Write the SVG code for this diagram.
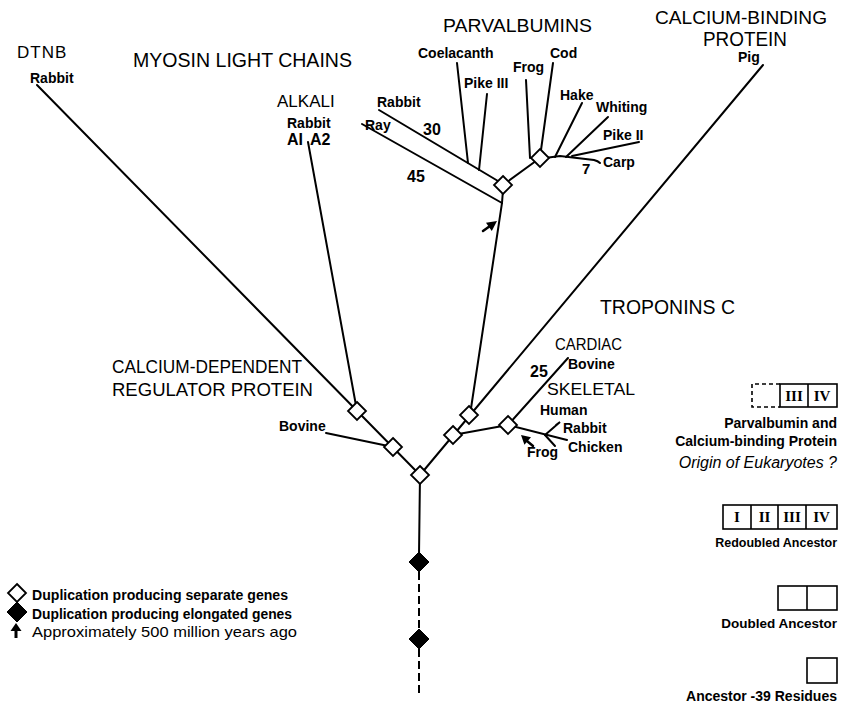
<svg xmlns="http://www.w3.org/2000/svg" xmlns:xlink="http://www.w3.org/1999/xlink" width="841" height="706" viewBox="0 0 841 706">
<defs>
<style>
.ln{stroke:#000;stroke-width:2;fill:none;stroke-linecap:round}
.dash{stroke:#000;stroke-width:2;fill:none;stroke-dasharray:8 4}
.wd{fill:#fff;stroke:#000;stroke-width:1.8}
.bd{fill:#000;stroke:#000;stroke-width:1}
.t{font-family:"Liberation Sans",Arial,sans-serif;font-size:20px;fill:#000}
.lb{font-family:"Liberation Sans",Arial,sans-serif;font-size:14px;font-weight:bold;fill:#000}
.nm{font-family:"Liberation Sans",Arial,sans-serif;font-size:16px;font-weight:bold;fill:#000}
.lg{font-family:"Liberation Sans",Arial,sans-serif;font-size:14px;font-weight:bold;fill:#000}
.it{font-family:"Liberation Sans",Arial,sans-serif;font-size:16px;font-style:italic;fill:#000}
.rn{font-family:"Liberation Serif","Times New Roman",serif;font-size:15px;font-weight:bold;fill:#000}
.box{fill:none;stroke:#000;stroke-width:1.6}
</style>
<polygon id="wdia" points="0,-9 9,0 0,9 -9,0"/>
<polygon id="bdia" points="0,-10 10,0 0,10 -10,0"/>
</defs>
<rect width="841" height="706" fill="#fff"/>

<g id="connectors">
<line class="ln" x1="420" y1="475" x2="37" y2="85"/>
<line class="ln" x1="393" y1="447" x2="326" y2="433"/>
<line class="ln" x1="357" y1="411" x2="308" y2="142"/>
<line class="ln" x1="420" y1="475" x2="763" y2="65"/>
<polyline class="ln" points="470,415 502,203 503,190"/>
<line class="ln" x1="362" y1="124" x2="502" y2="203"/>
<line class="ln" x1="379" y1="110" x2="498" y2="181"/>
<line class="ln" x1="457" y1="63" x2="468" y2="163"/>
<line class="ln" x1="487" y1="94" x2="479" y2="170"/>
<line class="ln" x1="503" y1="185" x2="540" y2="158"/>
<line class="ln" x1="526" y1="80" x2="530" y2="158"/>
<line class="ln" x1="553" y1="63" x2="541" y2="150"/>
<path class="ln" d="M545,158 L560,156 L594,160 Q598,161 600,163"/>
<line class="ln" x1="555" y1="157" x2="582" y2="103"/>
<line class="ln" x1="566" y1="157" x2="608" y2="117"/>
<line class="ln" x1="572" y1="156" x2="639" y2="142"/>
<line class="ln" x1="453" y1="435" x2="508" y2="425"/>
<line class="ln" x1="508" y1="425" x2="568" y2="358"/>
<line class="ln" x1="508" y1="425" x2="567" y2="440"/>
<polyline class="ln" points="545,435 560,422 556,425"/>
<line class="ln" x1="545" y1="435" x2="555" y2="446"/>
<line class="ln" x1="420" y1="475" x2="419" y2="555"/>
<line class="dash" x1="419" y1="572" x2="419" y2="630"/>
<line class="dash" x1="419" y1="649" x2="419" y2="697"/>
<line class="ln" x1="483" y1="231" x2="490" y2="226" style="stroke-width:2.5"/>
<polygon points="497,221 491.8,230.9 486,222.7" fill="#000"/>
<line class="ln" x1="533" y1="446" x2="527" y2="441" style="stroke-width:2.5"/>
<polygon points="521,435 531,437.3 524.4,444.7" fill="#000"/>
</g>

<g id="node-root"><use xlink:href="#wdia" href="#wdia" x="420" y="475" class="wd"/></g>
<g id="node-cdr"><use xlink:href="#wdia" href="#wdia" x="393" y="447" class="wd"/></g>
<g id="node-mlc"><use xlink:href="#wdia" href="#wdia" x="357" y="411" class="wd"/></g>
<g id="node-right1"><use xlink:href="#wdia" href="#wdia" x="453" y="435" class="wd"/></g>
<g id="node-right2"><use xlink:href="#wdia" href="#wdia" x="469" y="415" class="wd"/></g>
<g id="node-tnc"><use xlink:href="#wdia" href="#wdia" x="508" y="425" class="wd"/></g>
<g id="node-parv1"><use xlink:href="#wdia" href="#wdia" x="503" y="185" class="wd"/></g>
<g id="node-parv2"><use xlink:href="#wdia" href="#wdia" x="540" y="158" class="wd"/></g>
<g id="node-elong1"><use xlink:href="#bdia" href="#bdia" x="419" y="562" class="bd"/></g>
<g id="node-elong2"><use xlink:href="#bdia" href="#bdia" x="419" y="639" class="bd"/></g>

<g id="dtnb">
<text class="t" x="17" y="58" style="font-size:17px;letter-spacing:1px">DTNB</text>
<text class="lb" x="30" y="83">Rabbit</text>
</g>
<g id="myosin">
<text class="t" x="133" y="67" textLength="219" lengthAdjust="spacingAndGlyphs">MYOSIN LIGHT CHAINS</text>
<text class="t" x="277" y="107" style="font-size:17px">ALKALI</text>
<text class="lb" x="287" y="128">Rabbit</text>
<text class="nm" x="287" y="145">AI</text>
<text class="nm" x="310" y="145">A2</text>
</g>
<g id="parvalbumins">
<text class="t" x="443" y="32" style="font-size:19px" textLength="149" lengthAdjust="spacingAndGlyphs">PARVALBUMINS</text>
<text class="lb" x="418" y="58">Coelacanth</text>
<text class="lb" x="464" y="88">Pike III</text>
<text class="lb" x="513" y="72">Frog</text>
<text class="lb" x="550" y="58">Cod</text>
<text class="lb" x="560" y="100">Hake</text>
<text class="lb" x="596" y="112">Whiting</text>
<text class="lb" x="603" y="140">Pike II</text>
<text class="lb" x="603" y="167">Carp</text>
<text class="nm" x="582" y="174" style="font-size:15px">7</text>
<text class="lb" x="377" y="107">Rabbit</text>
<text class="lb" x="365" y="130">Ray</text>
<text class="nm" x="423" y="135">30</text>
<text class="nm" x="407" y="182">45</text>
</g>
<g id="cbp">
<text class="t" x="655" y="24" style="font-size:19px" textLength="172" lengthAdjust="spacingAndGlyphs">CALCIUM-BINDING</text>
<text class="t" x="703" y="46" style="font-size:20px" textLength="84" lengthAdjust="spacingAndGlyphs">PROTEIN</text>
<text class="lb" x="738" y="62">Pig</text>
</g>
<g id="troponins">
<text class="t" x="600" y="314" style="font-size:20px" textLength="135" lengthAdjust="spacingAndGlyphs">TROPONINS C</text>
<text class="t" x="555" y="350" style="font-size:16px" textLength="67" lengthAdjust="spacingAndGlyphs">CARDIAC</text>
<text class="lb" x="568" y="369">Bovine</text>
<text class="nm" x="530" y="377">25</text>
<text class="t" x="547" y="395" style="font-size:17px" textLength="88" lengthAdjust="spacingAndGlyphs">SKELETAL</text>
<text class="lb" x="540" y="415">Human</text>
<text class="lb" x="563" y="433">Rabbit</text>
<text class="lb" x="568" y="452">Chicken</text>
<text class="lb" x="527" y="457">Frog</text>
</g>
<g id="cdr">
<text class="t" x="112" y="373" style="font-size:18px" textLength="190" lengthAdjust="spacingAndGlyphs">CALCIUM-DEPENDENT</text>
<text class="t" x="112" y="396" style="font-size:19px" textLength="201" lengthAdjust="spacingAndGlyphs">REGULATOR PROTEIN</text>
<text class="lb" x="279" y="431">Bovine</text>
</g>

<g id="legend-symbols">
<use xlink:href="#wdia" href="#wdia" x="17" y="593" class="wd"/>
<use xlink:href="#bdia" href="#bdia" x="17" y="612" class="bd"/>
<polygon points="16,623 10.5,631 21.5,631" fill="#000"/>
<line x1="16" y1="630" x2="16" y2="638" stroke="#000" stroke-width="3"/>
<text class="lg" x="32" y="600" textLength="256" lengthAdjust="spacingAndGlyphs">Duplication producing separate genes</text>
<text class="lg" x="32" y="619" textLength="260" lengthAdjust="spacingAndGlyphs">Duplication producing elongated genes</text>
<text class="lg" x="32" y="637" style="font-weight:normal;font-size:15px" textLength="265" lengthAdjust="spacingAndGlyphs">Approximately 500 million years ago</text>
</g>

<g id="legend-parv">
<polyline points="780,384 752,384 752,407 780,407" fill="none" stroke="#000" stroke-width="1.6" stroke-dasharray="4 3"/>
<rect class="box" x="780" y="384" width="57" height="23"/>
<line class="box" x1="808" y1="384" x2="808" y2="407"/>
<text class="rn" x="794" y="401" text-anchor="middle">III</text>
<text class="rn" x="822" y="401" text-anchor="middle">IV</text>
<text class="lb" x="837" y="428" text-anchor="end">Parvalbumin and</text>
<text class="lb" x="837" y="446" text-anchor="end">Calcium-binding Protein</text>
<text class="it" x="837" y="468" text-anchor="end">Origin of Eukaryotes ?</text>
</g>
<g id="legend-redoubled">
<rect class="box" x="723" y="505" width="114" height="24"/>
<line class="box" x1="751" y1="505" x2="751" y2="529"/>
<line class="box" x1="778" y1="505" x2="778" y2="529"/>
<line class="box" x1="806" y1="505" x2="806" y2="529"/>
<text class="rn" x="737" y="522" text-anchor="middle">I</text>
<text class="rn" x="764.5" y="522" text-anchor="middle">II</text>
<text class="rn" x="792" y="522" text-anchor="middle">III</text>
<text class="rn" x="821.5" y="522" text-anchor="middle">IV</text>
<text class="lb" x="837" y="547" text-anchor="end" style="font-size:12.5px">Redoubled Ancestor</text>
</g>
<g id="legend-doubled">
<rect class="box" x="778" y="586" width="59" height="24"/>
<line class="box" x1="807" y1="586" x2="807" y2="610"/>
<text class="lb" x="837" y="628" text-anchor="end" style="font-size:13.5px">Doubled Ancestor</text>
</g>
<g id="legend-ancestor">
<rect class="box" x="807" y="658" width="30" height="25"/>
<text class="lb" x="837" y="701" text-anchor="end">Ancestor -39 Residues</text>
</g>
</svg>
